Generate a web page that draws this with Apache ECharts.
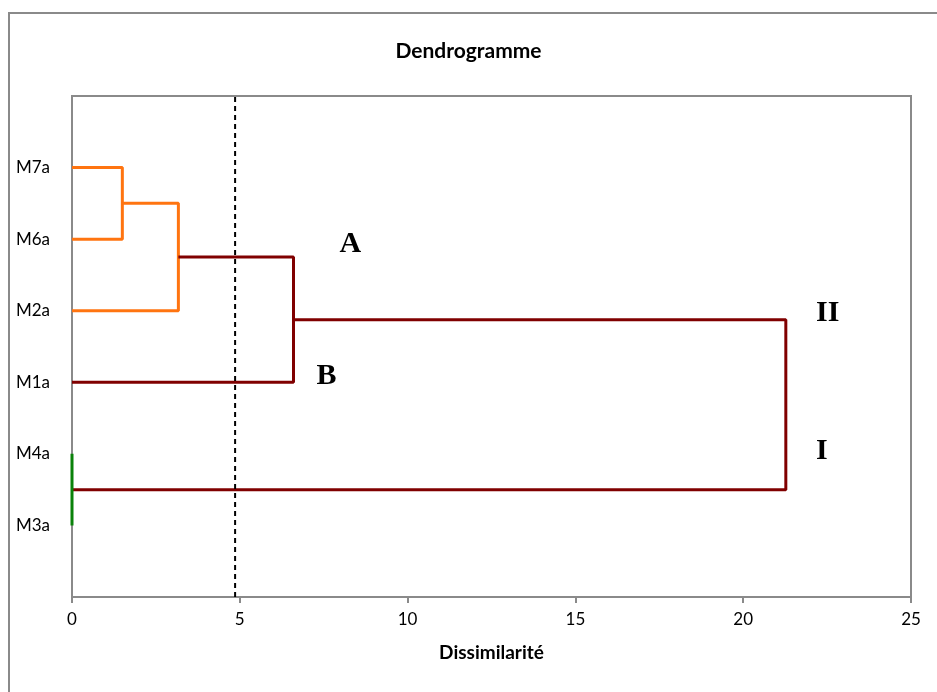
<!DOCTYPE html>
<html>
<head>
<meta charset="utf-8">
<script src="https://cdn.jsdelivr.net/npm/echarts@6/dist/echarts.min.js"></script>
<style>html,body{margin:0;padding:0;background:#fff}#c{width:937px;height:692px}</style>
</head>
<body>
<div id="c"></div>
<script>
// Leaves, bottom to top (y positions 1..6)
const leaves = ['M3a', 'M4a', 'M1a', 'M2a', 'M6a', 'M7a'];
// Merge dissimilarities
const mergeM7M6 = 1.5;
const mergeM2 = 3.17;
const mergeM1 = 6.6;
const mergeM4M3 = 0.0;
const mergeRoot = 21.27;
// Cut line
const cutLevel = 4.86;
// Group annotations [x, y, text]
const annotations = [
  [8.29, 4.93, 'A'],
  [7.58, 3.08, 'B'],
  [22.52, 3.96, 'II'],
  [22.34, 2.03, 'I']
];
const xTicks = [0, 5, 10, 15, 20, 25];

const pos = n => leaves.indexOf(n) + 1;
const yM7 = pos('M7a'), yM6 = pos('M6a'), yM2 = pos('M2a'), yM1 = pos('M1a'), yM4 = pos('M4a'), yM3 = pos('M3a');
const mid76 = (yM7 + yM6) / 2;
const mid762 = (mid76 + yM2) / 2;
const mid7621 = (mid762 + yM1) / 2;
const mid43 = (yM4 + yM3) / 2;

const ORANGE = '#ff7410', RED = '#800000', GREEN = '#0a820a';
function seg(data, color) {
  return { type: 'line', data: data, symbol: 'none', silent: true, z: 3,
    lineStyle: { color: color, width: 3 } };
}
const series = [
  seg([[0, yM7], [mergeM7M6, yM7], [mergeM7M6, yM6], [0, yM6]], ORANGE),
  seg([[mergeM7M6, mid76], [mergeM2, mid76], [mergeM2, yM2], [0, yM2]], ORANGE),
  seg([[mergeM2, mid762], [mergeM1, mid762], [mergeM1, yM1], [0, yM1]], RED),
  seg([[mergeM1, mid7621], [mergeRoot, mid7621], [mergeRoot, mid43], [mergeM4M3, mid43]], RED),
  seg([[mergeM4M3, yM4], [mergeM4M3, yM3]], GREEN),
  { type: 'line', data: [[cutLevel, 0], [cutLevel, 7]], symbol: 'none', silent: true, z: 4,
    lineStyle: { color: '#000', width: 2, type: [5, 4] } },
  { type: 'scatter', symbolSize: 0, silent: true, z: 5,
    data: annotations.map(a => ({ value: [a[0], a[1]], name: a[2] })),
    label: { show: true, position: 'inside', formatter: p => p.name,
      fontFamily: 'Liberation Serif', fontWeight: 'bold', fontSize: 30, color: '#000000',
      textBorderWidth: 0, opacity: 1 } }
];

const chart = echarts.init(document.getElementById('c'), null, { renderer: 'canvas' });
chart.setOption({
  animation: false,
  backgroundColor: '#fff',
  title: { text: 'Dendrogramme', left: 'center', top: 36,
    textStyle: { fontFamily: 'Lato', fontWeight: 'bold', fontSize: 21, color: '#000' } },
  graphic: [{ type: 'rect', shape: { x: 9, y: 13, width: 1000, height: 1000 },
    style: { fill: 'none', stroke: '#8a8a8a', lineWidth: 2 }, silent: true }],
  grid: { left: 72, top: 96, right: 26, bottom: 95, show: true, borderColor: '#8a8a8a', borderWidth: 2 },
  xAxis: { type: 'value', min: 0, max: 25, interval: 5,
    name: 'Dissimilarité', nameLocation: 'middle', nameGap: 46,
    nameTextStyle: { fontFamily: 'Lato', fontWeight: 'bold', fontSize: 19, color: '#000' },
    axisLine: { show: true, lineStyle: { color: '#8a8a8a', width: 2 } },
    axisTick: { show: true, length: 6, lineStyle: { color: '#8a8a8a', width: 2 } },
    splitLine: { show: false },
    axisLabel: { fontFamily: 'Lato', fontSize: 17, color: '#000', margin: 14,
      formatter: v => xTicks.indexOf(v) >= 0 ? String(v) : '' } },
  yAxis: { type: 'value', min: 0, max: 7, interval: 1,
    axisLine: { show: true, lineStyle: { color: '#8a8a8a', width: 2 } },
    axisTick: { show: false }, splitLine: { show: false },
    axisLabel: { fontFamily: 'Lato', fontSize: 17, color: '#000', margin: 22,
      formatter: v => (v >= 1 && v <= leaves.length) ? leaves[v - 1] : '' } },
  series: series
});
</script>
</body>
</html>
